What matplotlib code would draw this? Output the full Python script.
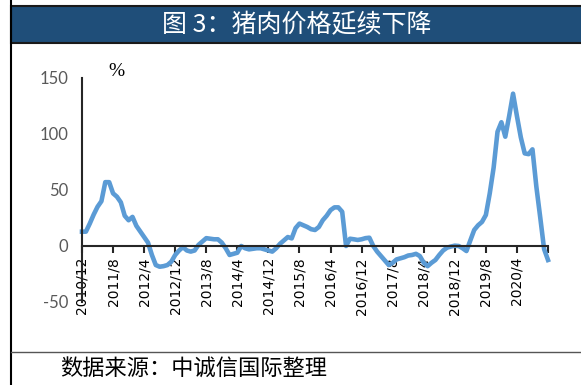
import matplotlib
matplotlib.use('Agg')
import matplotlib.pyplot as plt
from matplotlib.patches import Rectangle
from matplotlib.lines import Line2D

# Monthly pork price yoy (%)
pork_yoy = [
    12.8, 12.8, 20, 28, 35, 40, 57, 57, 47, 44,
    39, 27, 23, 26, 18, 13, 8, 3, -8, -17,
    -18.5, -18, -17, -14, -8, -4, -1, -4, -5, -4,
    1, 4, 7, 6.5, 6, 6, 3, -2, -8, -7,
    -6, 0, -2, -3, -2.5, -2, -2, -3, -4, -5,
    -2, 2, 5, 8, 6.8, 16, 20, 18.5, 17, 15,
    14.3, 17, 23, 27, 32, 34.5, 34.5, 30.6, 0, 6.5,
    6, 5.4, 6, 7, 7.4, 0, -5, -9, -13, -17,
    -15, -12, -11, -10, -8.5, -8, -7, -9, -15, -18,
    -15, -12.5, -8, -4, -1.5, -0.5, 0.3, 0, -2, -4.5,
    5, 14.3, 18.5, 21.5, 27.7, 47, 70, 102, 110.5, 97.6,
    116, 136, 116, 97, 82.7, 82, 86.3, 53, 25.5, -2.8,
    -12.5,
]
tick_labels = ['2010/12', '2011/8', '2012/4', '2012/12', '2013/8', '2014/4',
               '2014/12', '2015/8', '2016/4', '2016/12', '2017/8', '2018/4',
               '2018/12', '2019/8', '2020/4', '']
y_ticks = [-50, 0, 50, 100, 150]

title = '图 3：猪肉价格延续下降'
source = '数据来源：中诚信国际整理'

W, H = 581, 385
fig = plt.figure(figsize=(W / 100, H / 100), dpi=100)

# frame lines and title bar
fig.add_artist(Line2D([11 / W, 11 / W], [0, 1], color='black', lw=1.5))
fig.add_artist(Rectangle((11 / W, 1 - 43 / H), 1 - 11 / W + 0.01, 37 / H,
                         facecolor='#1F4E79', edgecolor='#1a1a1a', lw=1.5))
fig.add_artist(Line2D([11 / W, 1], [1 - 352 / H, 1 - 352 / H], color='#555555', lw=1))
fig.text(297 / W, 1 - 25 / H, title, color='white', fontsize=18,
         family=['Noto Sans CJK SC', 'DejaVu Sans'], ha='center', va='center')
fig.text(60 / W, 1 - 368 / H, source, color='black', fontsize=16,
         family=['Noto Sans CJK SC', 'DejaVu Sans'], ha='left', va='center')

ax = fig.add_axes([82 / W, 1 - 302 / H, (548 - 82) / W, (302 - 78) / H])
x = list(range(len(pork_yoy)))
ax.plot(x, pork_yoy, color='#5B9BD5', lw=3.3, solid_joinstyle='round', clip_on=False)

ax.set_xlim(0, 120)
ax.set_ylim(-50, 150)
ax.set_yticks(y_ticks)
ax.set_yticklabels([str(v) for v in y_ticks], family='Lato', fontsize=12, color='#595959')
ax.set_xticks(range(0, 121, 8))
ax.set_xticklabels(tick_labels, family='Lato', fontsize=14, color='#595959')

for s in ['top', 'right']:
    ax.spines[s].set_visible(False)
ax.spines['bottom'].set_position(('data', 0))
ax.spines['bottom'].set_color('#262626')
ax.spines['bottom'].set_linewidth(1.5)
ax.spines['left'].set_color('#262626')
ax.spines['left'].set_linewidth(1.5)
ax.tick_params(axis='y', length=0, pad=10)
ax.tick_params(axis='x', length=5, width=1.5, color='#262626', pad=3,
               direction='out', labelrotation=90)

ax.text(116 / W, 1 - 72 / H, '%', transform=fig.transFigure, family='Liberation Serif',
        fontsize=14, ha='center', va='center')

fig.savefig('out.png', dpi=100)
